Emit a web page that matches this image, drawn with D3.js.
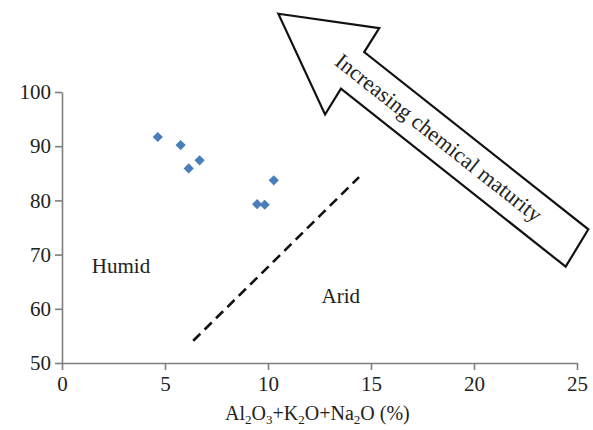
<!DOCTYPE html>
<html>
<head>
<meta charset="utf-8">
<script src="https://cdn.jsdelivr.net/npm/d3@7"></script>
<style>
  body { margin: 0; background: #fff; }
  svg text { font-family: "Liberation Serif", "Times New Roman", serif; fill: #222; }
</style>
</head>
<body>
<div id="chart"></div>
<script>
const width = 593;
const height = 430;

// sample points (Al2O3+K2O+Na2O %, SiO2 %)
const xValues = [4.65, 5.76, 6.15, 6.68, 9.47, 9.84, 10.28];
const yValues = [91.7, 90.2, 85.9, 87.4, 79.3, 79.2, 83.7];

// boundary between humid and arid fields
const boundaryX = [6.37, 14.42];
const boundaryY = [54.1, 84.3];

// outline of the annotation arrow, in data units
const arrowX = [10.50, 15.40, 14.67, 25.55, 24.45, 13.54, 12.77];
const arrowY = [114.44, 111.79, 107.37, 74.66, 67.77, 100.63, 95.84];

const xTicks = [0, 5, 10, 15, 20, 25];
const yTicks = [50, 60, 70, 80, 90, 100];

const svg = d3.select('#chart')
  .append('svg')
  .attr('width', width)
  .attr('height', height);

const margin = { top: 92, right: 16, bottom: 67, left: 62 };

const xScale = d3.scaleLinear()
  .domain([0, 25])
  .range([margin.left, width - margin.right]);

const yScale = d3.scaleLinear()
  .domain([50, 100])
  .range([height - margin.bottom, margin.top]);

// axes
const xAxis = svg.append('g')
  .attr('transform', `translate(0, ${yScale(50)})`)
  .call(d3.axisBottom(xScale).tickValues(xTicks).tickSize(7).tickSizeOuter(0).tickPadding(6));

const yAxis = svg.append('g')
  .attr('transform', `translate(${xScale(0)}, 0)`)
  .call(d3.axisLeft(yScale).tickValues(yTicks).tickSize(7).tickSizeOuter(0).tickPadding(4));

[xAxis, yAxis].forEach(ax => {
  ax.select('.domain').attr('stroke', '#7f7f7f').attr('stroke-width', 1.6);
  ax.selectAll('.tick line').attr('stroke', '#7f7f7f').attr('stroke-width', 1.6);
  ax.selectAll('.tick text')
    .style('font-family', '"Liberation Serif", serif')
    .style('font-size', '21px')
    .attr('fill', '#222');
});

// x axis title with subscripts
const title = svg.append('text')
  .attr('x', xScale(12.4))
  .attr('y', 420)
  .attr('text-anchor', 'middle')
  .style('font-size', '20px');
const parts = [['Al', 0], ['2', 1], ['O', 0], ['3', 1], ['+K', 0], ['2', 1], ['O+Na', 0], ['2', 1], ['O (%)', 0]];
let shift = 0;
parts.forEach(([t, sub]) => {
  const target = sub ? 4 : 0;
  title.append('tspan')
    .attr('dy', target - shift)
    .style('font-size', sub ? '13px' : '20px')
    .text(t);
  shift = target;
});

// dashed boundary line
svg.append('line')
  .attr('x1', xScale(boundaryX[0]))
  .attr('y1', yScale(boundaryY[0]))
  .attr('x2', xScale(boundaryX[1]))
  .attr('y2', yScale(boundaryY[1]))
  .attr('stroke', '#111')
  .attr('stroke-width', 2.6)
  .attr('stroke-dasharray', '10,6');

// field labels
svg.append('text')
  .attr('x', xScale(1.45))
  .attr('y', yScale(66.6))
  .style('font-size', '21px')
  .text('Humid');

svg.append('text')
  .attr('x', xScale(12.6))
  .attr('y', yScale(61.1))
  .style('font-size', '21px')
  .text('Arid');

// data points as diamonds
const points = xValues.map((x, i) => ({ x, y: yValues[i] }));
svg.append('g')
  .selectAll('path')
  .data(points)
  .join('path')
  .attr('d', d3.symbol(d3.symbolSquare, 52))
  .attr('transform', d => `translate(${xScale(d.x)}, ${yScale(d.y)}) rotate(45)`)
  .attr('fill', '#4a7ebb');

// arrow annotation
const arrowPts = arrowX.map((x, i) => [xScale(x), yScale(arrowY[i])]);
svg.append('path')
  .attr('d', d3.line()(arrowPts) + 'Z')
  .attr('fill', 'white')
  .attr('stroke', '#111')
  .attr('stroke-width', 2.2)
  .attr('stroke-linejoin', 'miter');

const angle = Math.atan2(arrowPts[3][1] - arrowPts[2][1], arrowPts[3][0] - arrowPts[2][0]) * 180 / Math.PI;
svg.append('text')
  .attr('transform', `translate(${xScale(18.3)}, ${yScale(91.6)}) rotate(${angle})`)
  .attr('text-anchor', 'middle')
  .attr('dy', '0.35em')
  .style('font-size', '22px')
  .text('Increasing chemical maturity');
</script>
</body>
</html>
